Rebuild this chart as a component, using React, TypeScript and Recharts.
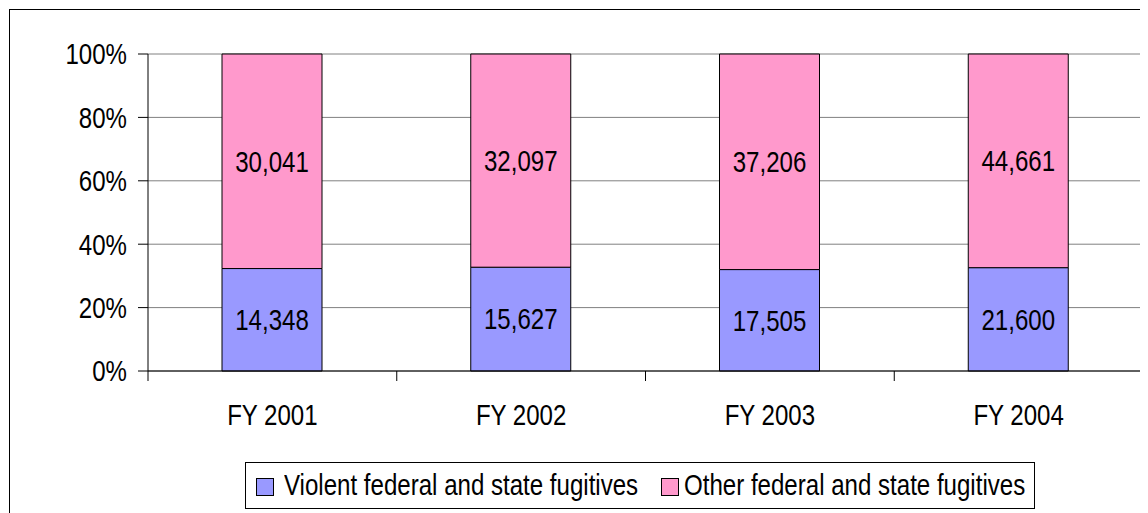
import React from "react";
import { BarChart, Bar, XAxis, YAxis, CartesianGrid, Legend, LabelList } from "recharts";

const categories = ["FY 2001", "FY 2002", "FY 2003", "FY 2004"];
const violent = [14348, 15627, 17505, 21600];
const other = [30041, 32097, 37206, 44661];
const yTicks = [0, 0.2, 0.4, 0.6, 0.8, 1];
const seriesNames = ["Violent federal and state fugitives", "Other federal and state fugitives"];
const seriesColors = ["#9999FF", "#FF99CC"];

const data = categories.map((c, i) => ({ name: c, violent: violent[i], other: other[i] }));

const FONT = "'Liberation Sans', Arial, sans-serif";
const SX = 0.83;
const FS = 29;
const X_TICK_MARGIN = 33;
const X_TICK_LEN = 10;
const fmt = (v: any) => Number(v).toLocaleString("en-US");

const SqueezedText = ({ x, y, anchor, dy, children }: any) => (
  <text
    transform={`translate(${x},${y}) scale(${SX},1)`}
    x={0}
    y={0}
    dy={dy}
    textAnchor={anchor}
    fontFamily={FONT}
    fontSize={FS}
    fill="#000"
  >
    {children}
  </text>
);

const YTick = (props: any) => {
  const { x, y, payload } = props;
  return (
    <SqueezedText x={x} y={y} anchor="end" dy="0.355em">
      {`${Math.round(payload.value * 100)}%`}
    </SqueezedText>
  );
};

const XTick = (props: any) => {
  const { x, y, payload, index, width, visibleTicksCount } = props;
  const n = visibleTicksCount || categories.length;
  const half = Number(width) / n / 2;
  const top = Number(y) - X_TICK_MARGIN;
  const xs = [Number(x) - half];
  if (index === n - 1) xs.push(Number(x) + half);
  return (
    <g>
      {xs.map((lx, k) => (
        <line key={k} x1={lx} x2={lx} y1={top} y2={top + X_TICK_LEN} stroke="#000" strokeWidth={1} />
      ))}
      <SqueezedText x={x} y={y} anchor="middle" dy="0.71em">
        {payload.value}
      </SqueezedText>
    </g>
  );
};

const BarLabel = (props: any) => {
  const { x, y, width, height, value } = props;
  return (
    <SqueezedText x={Number(x) + Number(width) / 2} y={Number(y) + Number(height) / 2} anchor="middle" dy="0.355em">
      {fmt(value)}
    </SqueezedText>
  );
};

const legendSquareLeft = [10, 415];
const legendTextLeft = [38, 438];

const LegendContent = () => (
  <div
    style={{
      position: "relative",
      boxSizing: "border-box",
      width: 790,
      height: 47,
      border: "1px solid #000",
      background: "#fff",
      fontFamily: FONT,
      fontSize: FS,
      color: "#000",
      whiteSpace: "nowrap",
    }}
  >
    {seriesNames.map((n, i) => (
      <React.Fragment key={n}>
        <span
          style={{
            position: "absolute",
            left: legendSquareLeft[i],
            top: 15,
            boxSizing: "border-box",
            width: 18,
            height: 18,
            background: seriesColors[i],
            border: "1px solid #000",
          }}
        />
        <span
          style={{
            position: "absolute",
            left: legendTextLeft[i],
            top: 5,
            lineHeight: "34px",
            transform: `scaleX(${SX})`,
            transformOrigin: "left center",
          }}
        >
          {n}
        </span>
      </React.Fragment>
    ))}
  </div>
);

export default function App() {
  return (
    <div style={{ position: "relative", width: 1140, height: 505, overflow: "hidden", background: "#fff" }}>
      <div
        style={{
          position: "absolute",
          left: 1,
          top: 1,
          width: 1300,
          height: 700,
          border: "1px solid #000",
          boxSizing: "border-box",
        }}
      />
      <div style={{ position: "absolute", left: 0, top: 0 }}>
        <BarChart
          width={1140}
          height={505}
          data={data}
          stackOffset="expand"
          barSize={100}
          margin={{ top: 46, right: 0, bottom: 141, left: 0 }}
        >
          <CartesianGrid vertical={false} stroke="#808080" />
          <XAxis
            dataKey="name"
            height={1}
            tickLine={false}
            axisLine={{ stroke: "#000" }}
            tickSize={0}
            tickMargin={X_TICK_MARGIN}
            interval={0}
            tick={<XTick />}
          />
          <YAxis
            width={140}
            domain={[0, 1]}
            ticks={yTicks}
            tickSize={10}
            tickMargin={11}
            tickLine={{ stroke: "#000" }}
            axisLine={{ stroke: "#000" }}
            tick={<YTick />}
          />
          <YAxis
            yAxisId="r"
            orientation="right"
            width={5}
            domain={[0, 1]}
            tick={false}
            tickLine={false}
            axisLine={{ stroke: "#808080" }}
          />
          <Legend
            layout="horizontal"
            verticalAlign="middle"
            align="center"
            content={LegendContent}
            wrapperStyle={{ left: 237, top: 454, width: 790, height: 47 }}
          />
          <Bar dataKey="violent" stackId="a" fill={seriesColors[0]} stroke="#000" strokeWidth={1} isAnimationActive={false} name={seriesNames[0]}>
            <LabelList dataKey="violent" content={BarLabel} />
          </Bar>
          <Bar dataKey="other" stackId="a" fill={seriesColors[1]} stroke="#000" strokeWidth={1} isAnimationActive={false} name={seriesNames[1]}>
            <LabelList dataKey="other" content={BarLabel} />
          </Bar>
        </BarChart>
      </div>
    </div>
  );
}
